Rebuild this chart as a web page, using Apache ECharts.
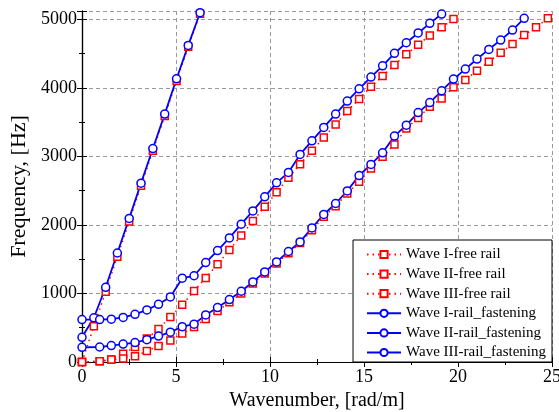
<!DOCTYPE html>
<html>
<head>
<meta charset="utf-8">
<script src="https://cdn.jsdelivr.net/npm/echarts@6/dist/echarts.min.js"></script>
<style>
  html, body { margin: 0; padding: 0; background: #fff; }
  #chart { width: 559px; height: 412px; }
</style>
</head>
<body>
<div id="chart"></div>
<script>
// wavenumber sampling, [rad/m]
const kWaveI = [0, 0.63, 1.26, 1.88, 2.51, 3.14, 3.77, 4.40, 5.03, 5.65, 6.28];
const kWaveII = [0, 0.94, 1.56, 2.19, 2.82, 3.45, 4.07, 4.70, 5.33, 5.96, 6.58, 7.21, 7.84, 8.47, 9.09, 9.72,
  10.35, 10.98, 11.60, 12.23, 12.86, 13.49, 14.11, 14.74, 15.37, 15.99, 16.62, 17.25, 17.88, 18.50, 19.13, 19.76,
  20.39, 21.01, 21.64, 22.27, 22.90, 23.52, 24.15, 24.78];

// frequencies, [Hz]
const waveIFree = [0, 520, 1026, 1537, 2050, 2570, 3080, 3590, 4100, 4600, 5080];
const waveIIFree = [0, 12, 37, 120, 219, 341, 482, 657, 835, 1036, 1226, 1426, 1635, 1845, 2058, 2263,
  2475, 2686, 2886, 3080, 3276, 3466, 3660, 3835, 4015, 4171, 4331, 4488, 4628, 4762, 4882, 5003];
const waveIIIFree = [0, 10, 35, 50, 83, 160, 235, 312, 415, 511, 628, 745, 872, 999, 1145, 1291,
  1437, 1585, 1735, 1923, 2117, 2273, 2458, 2628, 2823, 2993, 3174, 3407, 3560, 3723, 3845, 4006,
  4112, 4248, 4380, 4511, 4638, 4769, 4882, 5013];

const waveIRail = [360, 645, 1090, 1590, 2095, 2609, 3114, 3616, 4131, 4618, 5095];
const waveIIRail = [619, 619, 625, 650, 695, 760, 842, 949, 1222, 1258, 1451, 1626, 1810, 2010, 2204, 2409,
  2613, 2765, 3028, 3226, 3422, 3616, 3806, 3985, 4156, 4321, 4502, 4657, 4800, 4940, 5076];
const waveIIIRail = [214, 219, 240, 262, 283, 325, 378, 435, 515, 552, 686, 794, 911, 1032, 1168, 1314,
  1460, 1612, 1752, 1956, 2152, 2312, 2496, 2720, 2882, 3051, 3295, 3455, 3638, 3784, 3956, 4127,
  4273, 4419, 4560, 4696, 4842, 5013];

const xTicks = [0, 5, 10, 15, 20, 25];
const yTicks = [0, 1000, 2000, 3000, 4000, 5000];

const serif = 'Liberation Serif';
const pairs = (ks, fs) => fs.map((f, i) => [ks[i], f]);

const freeSeries = (name, ks, fs) => ({
  name,
  type: 'line',
  data: pairs(ks, fs),
  symbol: 'rect',
  symbolSize: 7,
  showAllSymbol: true,
  lineStyle: { color: '#ff0000', width: 1.5, type: [1.5, 4] },
  itemStyle: { color: '#ffffff', borderColor: '#ff0000', borderWidth: 1.5 },
  emphasis: { disabled: true },
});

const railSeries = (name, ks, fs) => ({
  name,
  type: 'line',
  data: pairs(ks, fs),
  symbol: 'circle',
  symbolSize: 8,
  showAllSymbol: true,
  lineStyle: { color: '#0000ff', width: 1.8 },
  itemStyle: { color: '#ffffff', borderColor: '#0000ff', borderWidth: 1.5 },
  emphasis: { disabled: true },
});

const tickAxis = {
  axisTick: { show: true, inside: true, length: 5, lineStyle: { color: '#000' } },
  minorTick: { show: true, splitNumber: 2, length: 3, lineStyle: { color: '#000' } },
  axisLine: { show: true, lineStyle: { color: '#000', width: 1.2 } },
};

const chart = echarts.init(document.getElementById('chart'));

chart.setOption({
  animation: false,
  grid: { left: 82, right: 7, top: 11, bottom: 50, containLabel: false, outerBoundsMode: 'none' },
  legend: {
    orient: 'vertical',
    right: 7,
    bottom: 50,
    backgroundColor: '#fff',
    borderColor: '#000',
    borderWidth: 1,
    borderRadius: 0,
    padding: [7, 6, 2, 13],
    itemWidth: 34,
    itemHeight: 9,
    itemGap: 4.6,
    textStyle: { fontFamily: serif, fontSize: 15, lineHeight: 15, color: '#000' },
  },
  xAxis: [
    {
      type: 'value', min: 0, max: 25, interval: 5,
      name: 'Wavenumber, [rad/m]', nameLocation: 'middle', nameGap: 29,
      nameTextStyle: { fontFamily: serif, fontSize: 20, color: '#000' },
      axisLabel: {
        fontFamily: serif, fontSize: 18, color: '#000', margin: 6,
        formatter: v => (xTicks.includes(v) ? String(v) : ''),
      },
      splitLine: { show: true, lineStyle: { color: '#9a9a9a', type: [4, 3] } },
      ...tickAxis,
    },
    {
      type: 'value', min: 0, max: 25, interval: 5, position: 'top',
      axisLabel: { show: false }, splitLine: { show: false },
      ...tickAxis,
    },
  ],
  yAxis: [
    {
      type: 'value', min: 0, max: 5120, interval: 1000,
      name: 'Frequency, [Hz]', nameLocation: 'middle', nameGap: 45,
      nameTextStyle: { fontFamily: serif, fontSize: 22, color: '#000' },
      axisLabel: {
        fontFamily: serif, fontSize: 18, color: '#000', margin: 5,
        formatter: v => (yTicks.includes(v) ? String(v) : ''),
      },
      splitLine: { show: true, lineStyle: { color: '#9a9a9a', type: [4, 3] } },
      ...tickAxis,
    },
    {
      type: 'value', min: 0, max: 5120, interval: 1000, position: 'right',
      axisLabel: { show: false }, splitLine: { show: false },
      ...tickAxis,
    },
  ],
  series: [
    freeSeries('Wave I-free rail', kWaveI, waveIFree),
    freeSeries('Wave II-free rail', kWaveII, waveIIFree),
    freeSeries('Wave III-free rail', kWaveII, waveIIIFree),
    railSeries('Wave I-rail_fastening', kWaveI, waveIRail),
    railSeries('Wave II-rail_fastening', kWaveII, waveIIRail),
    railSeries('Wave III-rail_fastening', kWaveII, waveIIIRail),
  ],
});

window.addEventListener('resize', () => chart.resize());
</script>
</body>
</html>
